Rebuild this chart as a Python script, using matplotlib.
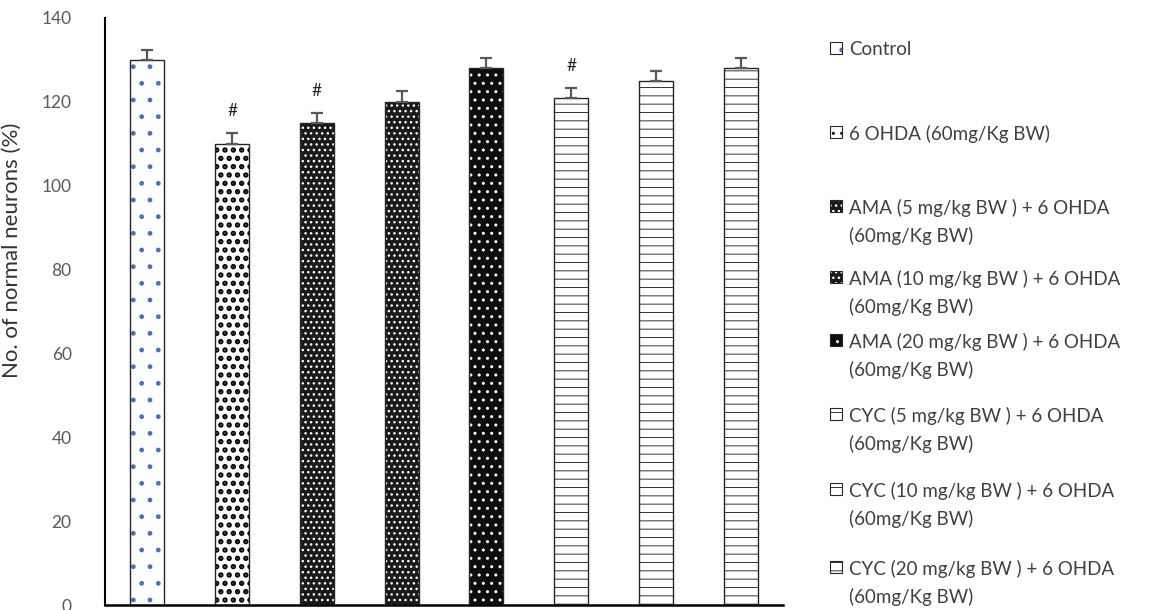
import matplotlib.pyplot as plt
from matplotlib.patches import Rectangle
import numpy as np

plt.rcParams['font.family'] = ['Lato', 'DejaVu Sans']

# data
groups = ['Control',
          '6 OHDA (60mg/Kg BW)',
          'AMA (5 mg/kg BW ) + 6 OHDA\n(60mg/Kg BW)',
          'AMA (10 mg/kg BW ) + 6 OHDA\n(60mg/Kg BW)',
          'AMA (20 mg/kg BW ) + 6 OHDA\n(60mg/Kg BW)',
          'CYC (5 mg/kg BW ) + 6 OHDA\n(60mg/Kg BW)',
          'CYC (10 mg/kg BW ) + 6 OHDA\n(60mg/Kg BW)',
          'CYC (20 mg/kg BW ) + 6 OHDA\n(60mg/Kg BW)']
values = [130, 110, 115, 120, 128, 121, 125, 128]
errors = [2.3, 2.6, 2.3, 2.5, 2.4, 2.4, 2.4, 2.4]
marks = ['', '#', '#', '', '', '#', '', '']

# fill style per group: face colour, hatch, hatch colour, hatch linewidth
faces = ['white', 'white', '#1a1a1a', '#1a1a1a', '#0d0d0d', 'white', 'white', 'white']
hatches = ['.', '..', '...', '...', '..', '--', '--', '--']
hatch_cols = ['#4472C4', 'black', 'white', 'white', 'white', '#333333', '#333333', '#333333']
hatch_lws = [1.0, 2.6, 1.0, 1.0, 1.0, 0.7, 0.7, 0.7]

W, H = 1162, 610
fig = plt.figure(figsize=(W / 100, H / 100), dpi=100)
ax = fig.add_axes([105 / W, 5 / H, 678 / W, 587 / H])

x = np.arange(len(values))
for i in range(len(values)):
    with plt.rc_context({'hatch.linewidth': hatch_lws[i]}):
        b = ax.bar(x[i], values[i], width=0.4, color=faces[i], edgecolor=hatch_cols[i],
                   hatch=hatches[i], linewidth=0, zorder=2)
    for p in b:
        if hasattr(p, 'set_hatch_linewidth'):
            p.set_hatch_linewidth(hatch_lws[i])
ax.bar(x, values, width=0.4, fill=False, edgecolor='#262626', linewidth=1.0, zorder=3)

ax.errorbar(x, values, yerr=[np.zeros(len(values)), errors], fmt='none',
            ecolor='#595959', elinewidth=1.6, capsize=4, capthick=1.6, zorder=4)

for i, m in enumerate(marks):
    if m:
        ax.text(x[i], values[i] + errors[i] + 5.2, m, ha='center', va='center',
                fontsize=12.5, color='#262626')

ax.set_xlim(-0.5, len(values) - 0.5)
ax.set_ylim(0, 140)
ax.set_yticks(range(0, 141, 20))
ax.tick_params(axis='y', length=0, pad=24, labelsize=12.5, labelcolor='#595959')
ax.set_xticks([])
for s in ['top', 'right']:
    ax.spines[s].set_visible(False)
ax.spines['left'].set_linewidth(1.5)
ax.spines['bottom'].set_linewidth(1.8)
ax.set_ylabel('No. of normal neurons (%)', fontsize=16, color='#333333')
ax.yaxis.set_label_coords(-0.122, 0.605)

# legend drawn by hand so the rows sit like the original
legend_rows = [48, 132, 206, 277, 340, 414, 489, 567]
for i, lab in enumerate(groups):
    y = legend_rows[i]
    with plt.rc_context({'hatch.linewidth': min(hatch_lws[i], 1.0)}):
        r = Rectangle((830 / W, 1 - (y + 6) / H), 12 / W, 12 / H, transform=fig.transFigure,
                      facecolor=faces[i], edgecolor=hatch_cols[i], hatch=hatches[i], linewidth=0)
    fig.add_artist(r)
    fig.add_artist(Rectangle((830 / W, 1 - (y + 6) / H), 12 / W, 12 / H, transform=fig.transFigure,
                             fill=False, edgecolor='#262626', linewidth=0.8))
    fig.text(849 / W, 1 - (y - 7) / H, lab, fontsize=13.5, color='#404040',
             va='top', ha='left', linespacing=1.65)

fig.savefig('out.png', dpi=100)
